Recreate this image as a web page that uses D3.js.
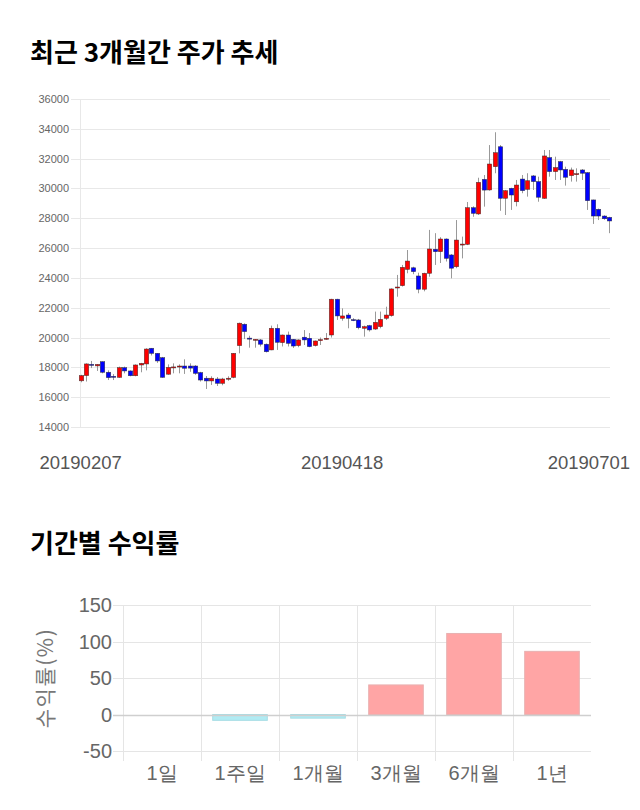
<!DOCTYPE html>
<html><head><meta charset="utf-8">
<script src="https://cdn.jsdelivr.net/npm/d3@7"></script>
<style>body{margin:0;background:#fff;} svg{display:block;font-family:"Liberation Sans",Arial,sans-serif;}</style>
</head><body><svg id="c" width="640" height="810"></svg>
<script>
// ---- Candlestick data (KRW) ----
const openP  = [17100,17450,18200,18100,18380,17670,17400,17330,17980,17760,17440,18160,18230,19280,18940,18650,17540,18000,18050,18090,18090,18090,17650,17270,17090,17220,16930,17240,17330,19460,20890,19960,19820,19840,19550,19170,20620,19660,20170,19880,19460,20020,19950,19460,19820,19880,20170,22570,21290,21510,21200,21180,20620,20800,20570,20730,21290,21470,23350,23480,24570,24680,24130,23240,24310,25920,25760,26610,25540,24750,26230,26250,28710,28290,30610,29900,31460,32800,29340,30010,29110,30630,29940,30840,30460,29340,32070,31130,31800,31280,30860,30950,31240,31060,29230,28600,28150,28060];
const highP  = [17500,18270,18430,18220,18400,17800,17550,18050,18050,17800,18200,18300,19280,19300,18950,18700,18200,18270,18200,18540,18270,18150,17700,17420,17400,17350,17300,17400,18960,21000,20950,20120,19900,19900,19600,20800,20890,20200,20400,19900,19880,20500,20300,19800,20000,20300,22600,22600,21960,21650,21300,21250,20800,20850,21740,21740,22070,23300,24200,24870,25870,24750,24350,24350,27220,27000,26730,26650,25600,27880,26770,29090,28800,30720,30900,32910,33770,32910,29900,30050,30570,30900,31020,30900,30790,32580,32580,32130,31850,31460,31400,31350,31300,31100,29250,28650,28200,28100];
const lowP   = [17000,17050,17950,17760,17600,17150,17150,17300,17600,17400,17400,17670,17800,18800,18300,17300,17500,17600,17600,17560,17700,17500,17050,16550,16820,16750,16800,17100,17270,18940,19900,19320,19320,19400,19000,19150,19170,19400,19400,19300,19350,19500,19350,19400,19500,19850,20000,21180,21130,20620,21100,20550,20060,20400,20510,20620,21180,21400,22740,23420,24310,24250,22970,23100,24080,24870,25000,25100,23970,24650,25310,26200,28100,28220,28780,29850,31020,28500,28220,28560,28800,29680,29450,29900,29110,29300,30790,30570,30570,30190,30460,30460,30570,28560,27620,27880,27900,27000];
const closeP = [17450,18230,18150,18200,17670,17310,17380,17980,17760,17440,18160,18270,19230,18940,18430,17330,18000,18030,18090,17940,17950,17600,17150,17090,17270,16930,17220,17270,18940,20960,20400,19940,19880,19550,19050,20620,19680,20170,19610,19430,19840,19840,19390,19770,19860,19950,22570,21450,21450,21290,21170,20660,20730,20510,21020,21220,21510,23260,23390,24710,25130,24420,23240,24310,25940,25760,26610,25310,24650,26540,26270,28710,28330,30410,29890,31640,32400,29340,29850,29560,30230,29850,30520,30460,29410,32180,31130,31400,31240,30750,31240,30990,31020,29180,28150,28150,27970,27820];
const priceTicks = [14000,16000,18000,20000,22000,24000,26000,28000,30000,32000,34000,36000];
const dateLabels = ["20190207","20190418","20190701"];
const dateLabelIndex = [0,48,97];

// ---- Period returns (%) ----
const periods = ["1일","1주일","1개월","3개월","6개월","1년"];
const returns = [0,-8,-5,40.5,111,86.5];
const returnTicks = [150,100,50,0,-50];

const svg = d3.select("#c");

// Titles
svg.append("text").attr("x",30).attr("y",62).attr("font-family","'Noto Sans CJK KR',sans-serif")
  .attr("font-size",26).attr("font-weight","bold").attr("fill","#000").text("최근 3개월간 주가 추세");
svg.append("text").attr("x",30).attr("y",553).attr("font-family","'Noto Sans CJK KR',sans-serif")
  .attr("font-size",26).attr("font-weight","bold").attr("fill","#000").text("기간별 수익률");

// ---- Candlestick chart ----
const n = openP.length;
const y1 = d3.scaleLinear().domain([14000,36000]).range([427,99]);
const x1 = d3.scaleLinear().domain([0,n-1]).range([80.6,609]);
const g1 = svg.append("g");
g1.selectAll("line.hg").data(priceTicks).join("line")
  .attr("x1",71).attr("x2",610).attr("y1",d=>Math.round(y1(d))+0.5).attr("y2",d=>Math.round(y1(d))+0.5)
  .attr("stroke","#e8e8e8").attr("stroke-width",1);
g1.append("line").attr("x1",80.5).attr("x2",80.5).attr("y1",99).attr("y2",428).attr("stroke","#e8e8e8");
g1.selectAll("text.yl").data(priceTicks).join("text")
  .attr("x",69).attr("y",d=>y1(d)+4).attr("text-anchor","end").attr("font-size",11).attr("fill","#666")
  .text(d=>d);

const idx = d3.range(n);
g1.selectAll("line.wick").data(idx).join("line")
  .attr("x1",i=>Math.round(x1(i))+0.5).attr("x2",i=>Math.round(x1(i))+0.5)
  .attr("y1",i=>y1(highP[i])).attr("y2",i=>y1(lowP[i]))
  .attr("stroke","#999").attr("stroke-width",1);
const bw = 4.4;
g1.selectAll("rect.body").data(idx).join("rect")
  .attr("x",i=>Math.round(x1(i))+0.5-bw/2).attr("width",bw)
  .attr("y",i=>y1(Math.max(openP[i],closeP[i])))
  .attr("height",i=>Math.max(1,Math.abs(y1(openP[i])-y1(closeP[i]))))
  .attr("fill",i=>closeP[i]>=openP[i]?"#ff0000":"#0000ff")
  .attr("stroke","rgba(40,40,40,0.75)").attr("stroke-width",0.6);

const xl = g1.selectAll("text.xl").data(dateLabels).join("text")
  .attr("y",469).attr("font-size",18.5).attr("fill","#555").attr("text-anchor","middle")
  .attr("x",(d,k)=>x1(dateLabelIndex[k])).text(d=>d);
xl.each(function(){
  const w = this.getComputedTextLength();
  const cx = +this.getAttribute("x");
  if (cx + w/2 > 630) this.setAttribute("x", 630 - w/2);
});

// ---- Returns bar chart ----
const y2 = d3.scaleLinear().domain([-50,150]).range([751,605]);
const x2 = d3.scaleBand().domain(periods).range([123,591]).paddingInner(0.3).paddingOuter(0.15);
const step = x2.step();
const g2 = svg.append("g");
g2.selectAll("line.hg2").data(returnTicks.filter(d=>d!==0)).join("line")
  .attr("x1",113).attr("x2",591).attr("y1",d=>Math.round(y2(d))+0.5).attr("y2",d=>Math.round(y2(d))+0.5)
  .attr("stroke","#e5e5e5");
g2.selectAll("line.vg2").data(d3.range(periods.length)).join("line")
  .attr("x1",k=>Math.round(123+k*step)+0.5).attr("x2",k=>Math.round(123+k*step)+0.5)
  .attr("y1",605).attr("y2",761).attr("stroke","#e5e5e5");
g2.selectAll("text.yl2").data(returnTicks).join("text")
  .attr("x",112).attr("y",d=>y2(d)+7).attr("text-anchor","end").attr("font-size",20).attr("fill","#666")
  .text(d=>d);
g2.selectAll("text.xl2").data(periods).join("text")
  .attr("x",d=>x2(d)+x2.bandwidth()/2).attr("y",780).attr("text-anchor","middle")
  .attr("font-size",20).attr("fill","#666").text(d=>d);
g2.selectAll("rect.bar").data(periods).join("rect")
  .attr("x",d=>x2(d)).attr("width",x2.bandwidth())
  .attr("y",(d,k)=>y2(Math.max(0,returns[k])))
  .attr("height",(d,k)=>Math.abs(y2(returns[k])-y2(0)))
  .attr("fill",(d,k)=>returns[k]>=0?"#ffa5a5":"#b0ebf3")
  .attr("stroke",(d,k)=>returns[k]>=0?"#e8b0b0":"#a8dde4").attr("stroke-width",1);
g2.append("line").attr("x1",113).attr("x2",591).attr("y1",Math.round(y2(0))+0.5).attr("y2",Math.round(y2(0))+0.5)
  .attr("stroke","#cfcfcf").attr("stroke-width",1.6);
svg.append("text").attr("transform","translate(53,678) rotate(-90)").attr("text-anchor","middle")
  .attr("font-size",21).attr("letter-spacing",1.5).attr("fill","#777").attr("font-family","'Noto Sans CJK KR',sans-serif").text("수익률(%)");
</script></body></html>
